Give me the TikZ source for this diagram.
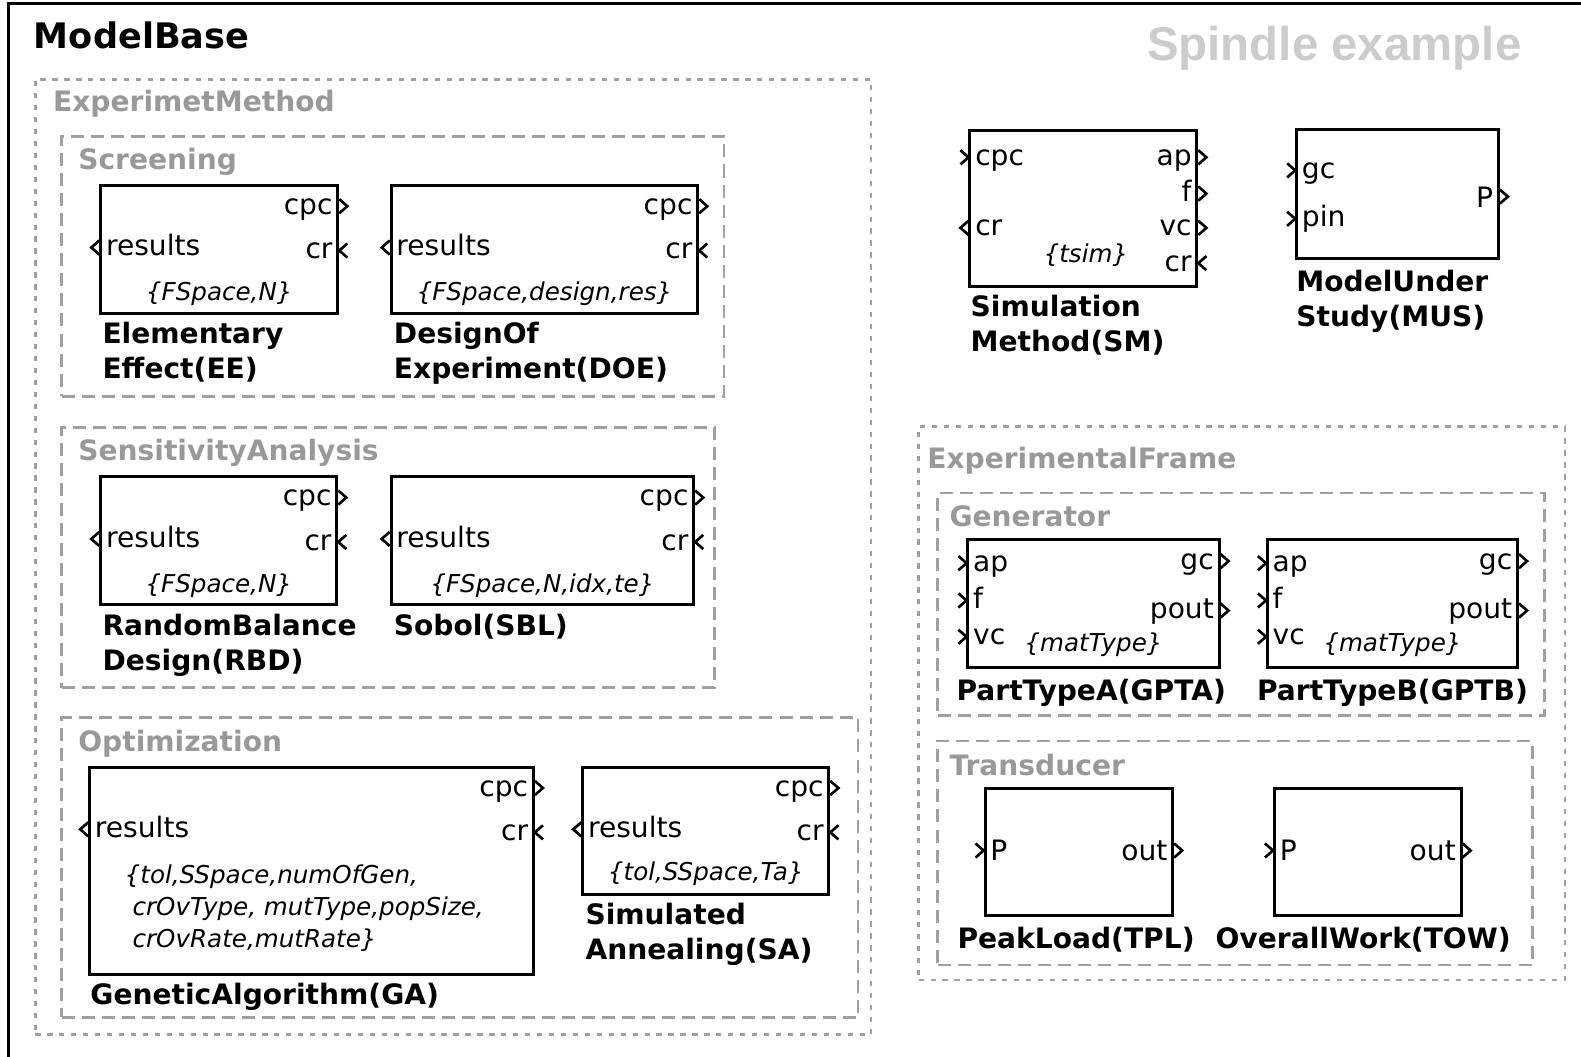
\documentclass[tikz,border=0pt]{standalone}
\usepackage{fontspec}
\setmainfont{DejaVu Sans}
\newfontfamily\spindlefont{Liberation Sans}
\usetikzlibrary{calc,fit,positioning}
\definecolor{titlegray}{HTML}{999999}
\definecolor{framegray}{HTML}{A0A0A0}
\definecolor{notegray}{HTML}{CCCCCC}

\begin{document}
\begin{tikzpicture}[x=0.010083cm,y=-0.010083cm,
    block/.style={draw,line width=0.85pt,inner sep=0pt},
    dotbox/.style={draw=framegray,line width=0.7pt,dash pattern=on 1.5pt off 1.9pt,inner sep=0pt},
    dashbox/.style={draw=framegray,line width=0.8pt,dash pattern=on 3.7pt off 2pt,inner sep=0pt},
    grouptitle/.style={anchor=base west,inner sep=0pt,text=titlegray,font=\fontsize{8}{10}\selectfont\bfseries},
    caption/.style={anchor=north west,align=left,inner sep=0pt,font=\fontsize{8}{10}\selectfont\bfseries},
    plabel/.style={inner sep=0pt,font=\fontsize{8}{10}\selectfont},
    param/.style={inner sep=0pt,font=\fontsize{7}{9.1}\selectfont\itshape},
    portline/.style={line width=0.75pt},
    pics/outport/.style={code={\draw[portline] (0,-7) -- (8,0) -- (0,7);}},
    pics/inport/.style={code={\draw[portline] (8,-7) -- (0,0) -- (8,7);}}]
\useasboundingbox (0,0) rectangle (1568,1048);
\draw[line width=0.85pt] (8,1100) -- (8,3) -- (1600,3);
\node[anchor=base west,inner sep=0pt,font=\fontsize{10}{12}\selectfont\bfseries] (MB) at (33,48) {ModelBase};
\node[anchor=base west,inner sep=0pt,text=notegray,font=\spindlefont\fontsize{13.5}{16}\selectfont\bfseries] (note) at (1137,60) {Spindle example};

% groups
\node[dotbox,fit={(35,79) (864,1026)}] (EM) {};
\node[grouptitle] (EM-title) at (52,111) {ExperimetMethod};
\node[dashbox,fit={(61,135) (718,393)}] (SCR) {};
\node[grouptitle] (SCR-title) at (77,168) {Screening};
\node[dashbox,fit={(61,424) (709,682)}] (SENS) {};
\node[grouptitle] (SENS-title) at (77,457) {SensitivityAnalysis};
\node[dashbox,fit={(61,712) (851,1009)}] (OPT) {};
\node[grouptitle] (OPT-title) at (77,745) {Optimization};
\node[dotbox,fit={(911,423) (1552,972)}] (EF) {};
\node[grouptitle] (EF-title) at (919,465) {ExperimentalFrame};
\node[dashbox,fit={(930,489) (1532,710)}] (GEN) {};
\node[grouptitle] (GEN-title) at (941,522) {Generator};
\node[dashbox,fit={(930,735) (1520,957)}] (TRA) {};
\node[grouptitle] (TRA-title) at (941,769) {Transducer};

% experiment methods
\node[block,fit={(100,184) (335,311)}] (EE) {};
\node[block,fit={(388,184) (692,311)}] (DOE) {};
\node[block,fit={(100,473) (334,600)}] (RBD) {};
\node[block,fit={(388,473) (688,600)}] (SBL) {};
\node[block,fit={(89,761) (529,966)}] (GA) {};
\node[block,fit={(578,761) (822,887)}] (SA) {};
\foreach \b in {EE,DOE,RBD,SBL,GA,SA}{
  \pic at ($(\b.north east)+(0,22)$) {outport};
  \pic at ($(\b.north east)+(0,66)$) {inport};
  \pic[xscale=-1] at ($(\b.north west)+(0,63)$) {outport};
  \node[plabel,anchor=base east] (\b-cpc) at ($(\b.north east)+(-6,30)$) {cpc};
  \node[plabel,anchor=base east] (\b-cr) at ($(\b.north east)+(-6,74)$) {cr};
  \node[plabel,anchor=base west] (\b-res) at ($(\b.north west)+(6,71)$) {results};
}
\node[param,anchor=base] (EE-par) at ($(EE.south)+(0,-14)$) {\{FSpace,N\}};
\node[param,anchor=base] (DOE-par) at ($(DOE.south)+(0,-14)$) {\{FSpace,design,res\}};
\node[param,anchor=base] (RBD-par) at ($(RBD.south)+(0,-14)$) {\{FSpace,N\}};
\node[param,anchor=base] (SBL-par) at ($(SBL.south)+(0,-14)$) {\{FSpace,N,idx,te\}};
\node[param,anchor=base] (SA-par) at ($(SA.south)+(0,-15)$) {\{tol,SSpace,Ta\}};
\node[param,anchor=north west,align=left] (GA-par) at (123,857)
  {\{tol,SSpace,numOfGen,\\\ crOvType, mutType,popSize,\\\ crOvRate,mutRate\}};
\node[caption] (EE-cap) at (101,319) {Elementary\\Effect(EE)};
\node[caption] (DOE-cap) at (390,319) {DesignOf\\Experiment(DOE)};
\node[caption] (RBD-cap) at (101,608) {RandomBalance\\Design(RBD)};
\node[caption] (SBL-cap) at (390,608) {Sobol(SBL)};
\node[caption] (GA-cap) at (89,974) {GeneticAlgorithm(GA)};
\node[caption] (SA-cap) at (580,895) {Simulated\\Annealing(SA)};

% simulation method and model
\node[block,fit={(962,129) (1187,284)}] (SM) {};
\foreach \y/\t in {156/ap,192/f,226/vc}{
  \pic at (SM.east |- 0,\y) {outport};
  \node[plabel,anchor=base east] (SM-\t) at ($(SM.east |- 0,\y)+(-6,8)$) {\t};
}
\pic at (SM.east |- 0,261) {inport};
\node[plabel,anchor=base east] (SM-cr) at ($(SM.east |- 0,261)+(-6,8)$) {cr};
\pic[xscale=-1] at (SM.west |- 0,156) {inport};
\node[plabel,anchor=base west] (SM-cpc) at ($(SM.west |- 0,156)+(6,8)$) {cpc};
\pic[xscale=-1] at (SM.west |- 0,226) {outport};
\node[plabel,anchor=base west] (SM-crout) at ($(SM.west |- 0,226)+(6,8)$) {cr};
\node[param,anchor=base] (SM-par) at (1077,260) {\{tsim\}};
\node[caption] (SM-cap) at (962,292) {Simulation\\Method(SM)};

\node[block,fit={(1286,128) (1486,256)}] (MUS) {};
\foreach \y/\t in {169/gc,217/pin}{
  \pic[xscale=-1] at (MUS.west |- 0,\y) {inport};
  \node[plabel,anchor=base west] (MUS-\t) at ($(MUS.west |- 0,\y)+(6,8)$) {\t};
}
\pic at (MUS.east |- 0,195) {outport};
\node[plabel,anchor=base east] (MUS-P) at ($(MUS.east |- 0,195)+(-6,11)$) {P};
\node[caption] (MUS-cap) at (1285,267) {ModelUnder\\Study(MUS)};

% generators
\node[block,fit={(960,535) (1209,662)}] (GPTA) {};
\node[block,fit={(1257,535) (1505,662)}] (GPTB) {};
\foreach \b in {GPTA,GPTB}{
  \foreach \y/\t in {25/ap,62/f,98/vc}{
    \pic[xscale=-1] at ($(\b.north west)+(0,\y)$) {inport};
    \node[plabel,anchor=base west] (\b-\t) at ($(\b.north west)+(6,\y+8)$) {\t};
  }
  \foreach \y/\t in {23/gc,72/pout}{
    \pic at ($(\b.north east)+(0,\y)$) {outport};
    \node[plabel,anchor=base east] (\b-\t) at ($(\b.north east)+(-6,\y+8)$) {\t};
  }
  \node[param,anchor=base] (\b-par) at ($(\b.south)+(0,-17)$) {\{matType\}};
}
\node[caption] (GPTA-cap) at (948,673) {PartTypeA(GPTA)};
\node[caption] (GPTB-cap) at (1246,673) {PartTypeB(GPTB)};

% transducers
\node[block,fit={(977,782) (1163,908)}] (TPL) {};
\node[block,fit={(1264,782) (1449,908)}] (TOW) {};
\foreach \b in {TPL,TOW}{
  \pic[xscale=-1] at ($(\b.north west)+(0,63)$) {inport};
  \node[plabel,anchor=base west] (\b-P) at ($(\b.north west)+(6,73)$) {P};
  \pic at ($(\b.north east)+(0,63)$) {outport};
  \node[plabel,anchor=base east] (\b-out) at ($(\b.north east)+(-6,73)$) {out};
}
\node[caption] (TPL-cap) at (949,919) {PeakLoad(TPL)};
\node[caption] (TOW-cap) at (1205,919) {OverallWork(TOW)};
\end{tikzpicture}
\end{document}
